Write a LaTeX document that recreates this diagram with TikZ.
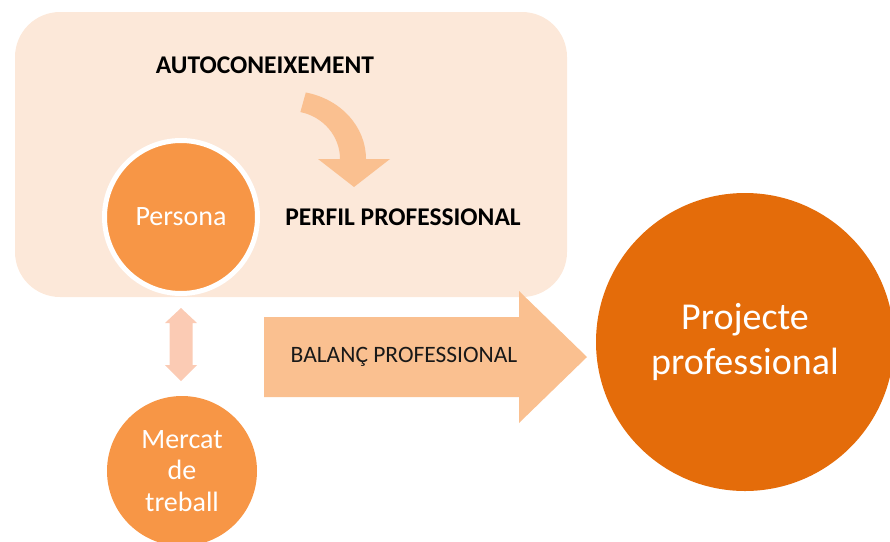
\documentclass[tikz,border=0pt]{standalone}
\usepackage{fontspec}
\setmainfont{Carlito}
\usetikzlibrary{calc}
\definecolor{boxpeach}{HTML}{FCE8D9}
\definecolor{arrowpeach}{HTML}{FAC090}
\definecolor{pinkpeach}{HTML}{FBCBB4}
\definecolor{midorange}{HTML}{F79646}
\definecolor{darkorange}{HTML}{E46C0A}
\tikzset{
  bigtitle/.style = {font=\fontsize{25.5}{30}\selectfont\bfseries},
  ball/.style = {circle, fill=midorange, text=white, align=center,
    inner sep=0pt, font=\fontsize{28}{31.5}\selectfont}
}

\begin{document}
\begin{tikzpicture}[x=1pt,y=-1pt]
  \useasboundingbox (0,0) rectangle (890,541);
  % self knowledge box
  \fill[boxpeach, rounded corners=45pt] (15,12) rectangle (567,297);
  \node[bigtitle] (auto) at (265,65) {AUTOCONEIXEMENT};
  \node[bigtitle] (perfil) at (403,217) {PERFIL PROFESSIONAL};
  % curved arrow
  \coordinate (bend) at (290,159);
  \fill[arrowpeach] ($(bend)+({76*cos(-78)},{68*sin(-78)})$)
    arc[start angle=-78, end angle=0, x radius=76, y radius=68]
    -- ++(24,0) -- ($(bend)+(64,28)$) -- ($(bend)+(28,0)$) -- ($(bend)+(50,0)$)
    arc[start angle=0, end angle=-78, x radius=50, y radius=48] -- cycle;
  % circles
  \node[ball, draw=white, line width=5pt, minimum size=153pt] (persona) at (181,217) {Persona};
  \node[ball, minimum size=150pt] (mercat) at (182,471) {Mercat\\de\\treball};
  \node[ball, fill=darkorange, minimum size=298pt,
    font=\fontsize{38}{45}\selectfont] (projecte) at (745,342) {Projecte\\professional};
  % double arrow
  \pgfmathsetmacro{\shaft}{11.5}
  \pgfmathsetmacro{\head}{16}
  \coordinate (dtop) at (181,308);
  \coordinate (dbot) at (181,381);
  \fill[pinkpeach] (dtop) -- ++(\head,15) -- ++({\shaft-\head},0) -- ($(dbot)+(\shaft,-16)$)
    -- ++({\head-\shaft},0) -- (dbot) -- ++(-\head,-16) -- ++({\head-\shaft},0)
    -- ($(dtop)+(-\shaft,15)$) -- ++({\shaft-\head},0) -- cycle;
  % big arrow
  \coordinate (btail) at (264,357);
  \coordinate (btip) at (587,357);
  \fill[arrowpeach] ($(btail)+(0,-40)$) -- ($(btip)+(-68,-40)$) -- ($(btip)+(-68,-66)$)
    -- (btip) -- ($(btip)+(-68,66)$) -- ($(btip)+(-68,40)$) -- ($(btail)+(0,40)$) -- cycle;
  \node[font=\fontsize{23.5}{28}\selectfont, text=black!90] (balanc) at (404,357) {BALANÇ PROFESSIONAL};
\end{tikzpicture}
\end{document}
